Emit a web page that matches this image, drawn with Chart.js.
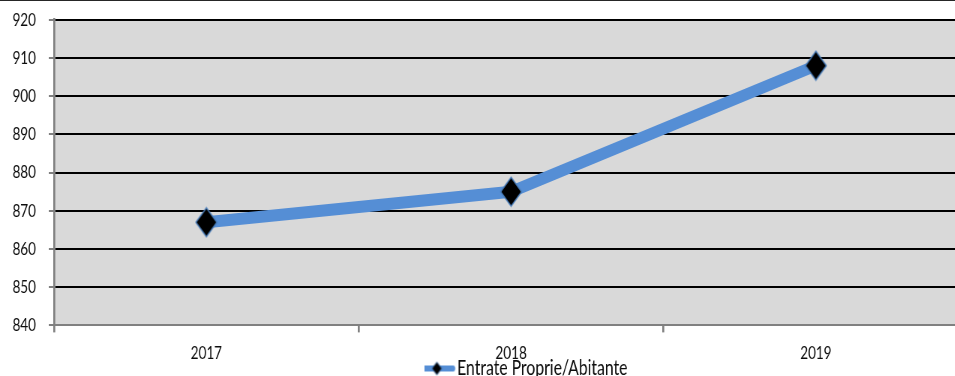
<!DOCTYPE html>
<html>
<head>
<meta charset="utf-8">
<script src="https://cdn.jsdelivr.net/npm/chart.js@4.4.0/dist/chart.umd.min.js"></script>
<style>
  html, body { margin: 0; padding: 0; background: #fff; overflow: hidden; }
  #wrap { width: 955px; height: 376px; overflow: hidden; position: relative; }
  #topline { position: absolute; left: 0; top: 0; width: 955px; height: 1px; background: #262626; z-index: 2; }
  /* the chart is drawn wide and squeezed horizontally for the condensed look */
  #entrate-chart { display: block; margin-top: -8px; transform: scaleX(0.75); transform-origin: 0 0; }
</style>
</head>
<body>
<div id="wrap"><div id="topline"></div><canvas id="entrate-chart" width="1291" height="413"></canvas></div>
<script>
  // Entrate proprie per abitante, per anno
  var years = ["2017", "2018", "2019"];
  var entratePerAbitante = [867, 875, 908];
  var seriesLabel = "Entrate Proprie/Abitante";
  var yMin = 840;
  var yMax = 920;
  var yStep = 10;

  var FONT = "Lato, 'Open Sans', sans-serif";
  var LINE_BLUE = "#558ed5";
  var AXIS_GREY = "#808080";
  var TEXT = "#0d0d0d";

  // Black diamond with a thin blue outline, used as the point marker
  function makeDiamond(w, h, lw) {
    var c = document.createElement("canvas");
    c.width = w;
    c.height = h;
    var g = c.getContext("2d");
    g.beginPath();
    g.moveTo(w / 2, lw);
    g.lineTo(w - lw, h / 2);
    g.lineTo(w / 2, h - lw);
    g.lineTo(lw, h / 2);
    g.closePath();
    g.fillStyle = "#000";
    g.fill();
    g.lineWidth = lw;
    g.strokeStyle = "#4a7ebb";
    g.stroke();
    return c;
  }

  // Legend swatch: short rounded blue stroke with a small diamond on it
  function makeLegendMarker() {
    var c = document.createElement("canvas");
    c.width = 56;
    c.height = 16;
    var g = c.getContext("2d");
    g.beginPath();
    g.moveTo(6.5, 8);
    g.lineTo(49.5, 8);
    g.lineCap = "round";
    g.lineWidth = 6;
    g.strokeStyle = LINE_BLUE;
    g.stroke();
    g.drawImage(makeDiamond(15, 15, 1), 28 - 7.5, 0.5);
    return c;
  }

  var plotFrame = {
    id: "plotFrame",
    beforeDraw: function (chart) {
      var ctx = chart.ctx;
      var a = chart.chartArea;
      ctx.save();
      ctx.fillStyle = "#d9d9d9";
      ctx.fillRect(a.left, a.top, a.right - a.left, a.bottom - a.top);
      ctx.restore();
    },
    afterLayout: function (chart) {
      // legend tucked right under the year labels, slightly right of centre
      var lg = chart.legend;
      var w = lg.right - lg.left;
      var h = lg.bottom - lg.top;
      lg.left = 566;
      lg.right = lg.left + w;
      lg.top = chart.scales.x.bottom - 16;
      lg.bottom = lg.top + h;
    }
  };

  var ctx = document.getElementById("entrate-chart").getContext("2d");
  var chart = new Chart(ctx, {
    type: "line",
    data: {
      labels: years,
      datasets: [
        {
          label: seriesLabel,
          data: entratePerAbitante,
          borderColor: LINE_BLUE,
          backgroundColor: LINE_BLUE,
          borderWidth: 12,
          borderJoinStyle: "round",
          tension: 0,
          fill: false,
          pointStyle: makeDiamond(31, 32, 1.5),
          pointRadius: 12,
          pointHoverRadius: 12,
        },
      ],
    },
    options: {
      responsive: false,
      animation: false,
      layout: { autoPadding: false, padding: { top: 13, left: 0, right: 0, bottom: 0 } },
      scales: {
        x: {
          offset: true,
          ticks: { padding: 10, color: TEXT, font: { family: FONT, size: 18 } },
          grid: {
            offset: true,
            drawOnChartArea: false,
            tickLength: 7,
            tickColor: AXIS_GREY,
            lineWidth: 2.7,
          },
          border: { color: AXIS_GREY, width: 2 },
        },
        y: {
          min: yMin,
          max: yMax,
          ticks: { stepSize: yStep, padding: 17, color: TEXT, font: { family: FONT, size: 18 } },
          grid: {
            color: function (c) {
              return c.tick && c.tick.value === yMin ? "rgba(0,0,0,0)" : "#000";
            },
            lineWidth: 2,
            tickLength: 7,
            tickColor: AXIS_GREY,
          },
          border: { color: AXIS_GREY, width: 2.7 },
          afterFit: function (s) {
            s.width = 72;
          },
        },
      },
      plugins: {
        legend: {
          position: "bottom",
          align: "start",
          fullSize: false,
          labels: {
            usePointStyle: true,
            pointStyle: makeLegendMarker(),
            pointStyleWidth: 33,
            padding: 0,
            color: TEXT,
            font: { family: FONT, size: 21 },
          },
        },
        tooltip: { enabled: false },
      },
    },
    plugins: [plotFrame],
  });
</script>
</body>
</html>
